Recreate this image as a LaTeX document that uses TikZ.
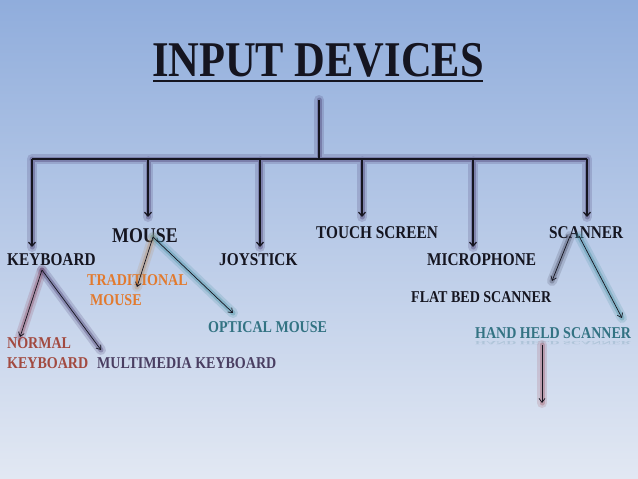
\documentclass[tikz,border=0pt]{standalone}
\usepackage{fontspec}
\newfontfamily\alg[FakeStretch=0.85]{Liberation Serif}
\usetikzlibrary{arrows.meta}
\definecolor{bgtop}{HTML}{90ADDC}
\definecolor{bgmid}{HTML}{BDCDEB}
\definecolor{bgbot}{HTML}{E2E8F3}
\definecolor{ink}{HTML}{151520}
\definecolor{orangeT}{HTML}{E27A2E}
\definecolor{tealT}{HTML}{337383}
\definecolor{redT}{HTML}{A24A40}
\definecolor{purpT}{HTML}{4A3E62}
\definecolor{gPurp}{HTML}{3E2F66}
\definecolor{gRed}{HTML}{8C3E55}
\definecolor{gOrange}{HTML}{B98A58}
\definecolor{gTeal}{HTML}{3B8C9C}
\definecolor{gGrey}{HTML}{3E3E55}
\definecolor{gRose}{HTML}{A0505E}
\tikzset{
  glowwide/.style={draw=#1, line width=10pt, line cap=round, opacity=0.18},
  glownarrow/.style={draw=#1, line width=5pt, line cap=round, opacity=0.32},
  treeline/.style={draw=ink, line width=1.4pt},
  droparrow/.style={draw=ink, line width=1.2pt, -{Straight Barb[length=4pt,width=7pt]}},
  brancharrow/.style={draw=ink, line width=0.7pt, -{Straight Barb[length=4pt,width=6pt]}},
  lone/.style={inner sep=0pt, text=ink, font={\alg\bfseries\fontsize{18}{20}\selectfont}},
  lmouse/.style={inner sep=0pt, text=ink, font={\alg\bfseries\fontsize{21}{24}\selectfont}},
  ltwo/.style={inner sep=0pt, align=left, font={\alg\bfseries\fontsize{16.5}{20}\selectfont}},
}
\begin{document}
\begin{tikzpicture}[x=1pt,y=-1pt]
\useasboundingbox (0,0) rectangle (638,479);
\shade[top color=bgtop, middle color=bgmid, bottom color=bgbot] (0,0) rectangle (638,479);

% title
\node[inner sep=0pt, text=ink, font={\alg\bfseries\fontsize{50}{54}\selectfont}, anchor=base] (title) at (318,76) {INPUT DEVICES};
\coordinate (ulL) at (153,81);
\coordinate (ulR) at (483,81);
\draw[ink, line width=2.5pt] (ulL) -- (ulR);

% tree coordinates
\coordinate (top) at (319,100);
\coordinate (hub) at (319,159);
\foreach \n/\x/\y in {1/32/247, 2/148/217, 3/260/247, 4/362/217, 5/473/247, 6/587/217}{
  \coordinate (j\n) at (\x,159);
  \coordinate (t\n) at (\x,\y);
}

% glows of tree
\foreach \g in {glowwide, glownarrow}{
  \path[\g=gPurp] (top) -- (hub) (j1) -- (j6)
    (j1) -- (t1) (j2) -- (t2) (j3) -- (t3) (j4) -- (t4) (j5) -- (t5) (j6) -- (t6);
}
\draw[treeline] (top) -- (hub);
\draw[treeline] (j1) -- (j6);
\foreach \n in {1,...,6}{ \draw[droparrow] (j\n) -- (t\n); }

% first level labels
\node[lone, anchor=base west] (keyboard) at (7,265) {KEYBOARD};
\node[lmouse, anchor=base west] (mouse) at (112,242) {MOUSE};
\node[lone, anchor=base west] (joystick) at (219,265) {JOYSTICK};
\node[lone, anchor=base west] (touch) at (316,238) {TOUCH SCREEN};
\node[lone, anchor=base west] (micro) at (427,265) {MICROPHONE};
\node[lone, anchor=base west] (scanner) at (549,238) {SCANNER};

% second level labels
\node[ltwo, text=orangeT, anchor=base west] (trad) at (87,305.5) {TRADITIONAL\\\hspace*{3pt}MOUSE};
\node[ltwo, text=tealT, anchor=base west] (optical) at (208,332.5) {OPTICAL MOUSE};
\node[ltwo, text=redT, anchor=base west] (normal) at (7,368.5) {NORMAL\\KEYBOARD};
\node[ltwo, text=purpT, anchor=base west] (multi) at (97,368.5) {MULTIMEDIA KEYBOARD};
\node[ltwo, text=ink, anchor=base west] (flatbed) at (411,302.5) {FLAT BED SCANNER};
\node[ltwo, text=tealT, anchor=base west] (handheld) at (475,338.5) {HAND HELD SCANNER};
\node[inner sep=0pt, text=tealT, opacity=0.18, anchor=north west, font={\alg\bfseries\fontsize{16.5}{20}\selectfont}] (reflect) at (475,341) {\scalebox{1}[-0.3]{HAND HELD SCANNER}};

% branch coordinates
\coordinate (kbO) at (42,270);
\coordinate (kbN) at (20,337);
\coordinate (kbM) at (101,350);
\coordinate (msO) at (153,237);
\coordinate (msT) at (137,287);
\coordinate (msP) at (233,313);
\coordinate (scO) at (570,236);
\coordinate (scF) at (552,281);
\coordinate (scO2) at (579,236);
\coordinate (scH) at (622,318);
\coordinate (hhO) at (542,345);
\coordinate (hhE) at (542,403);

% branch glows
\foreach \g in {glowwide, glownarrow}{
  \path[\g=gRed] (kbO) -- (kbN);
  \path[\g=gPurp] (kbO) -- (kbM);
  \path[\g=gOrange] (msO) -- (msT);
  \path[\g=gTeal] (msO) -- (msP);
  \path[\g=gGrey] (scO) -- (scF);
  \path[\g=gTeal] (scO2) -- (scH);
  \path[\g=gRose] (hhO) -- (hhE);
}
\draw[brancharrow] (kbO) -- (kbN);
\draw[brancharrow] (kbO) -- (kbM);
\draw[brancharrow] (msO) -- (msT);
\draw[brancharrow] (msO) -- (msP);
\draw[brancharrow] (scO) -- (scF);
\draw[brancharrow] (scO2) -- (scH);
\draw[brancharrow] (hhO) -- (hhE);
\end{tikzpicture}
\end{document}
